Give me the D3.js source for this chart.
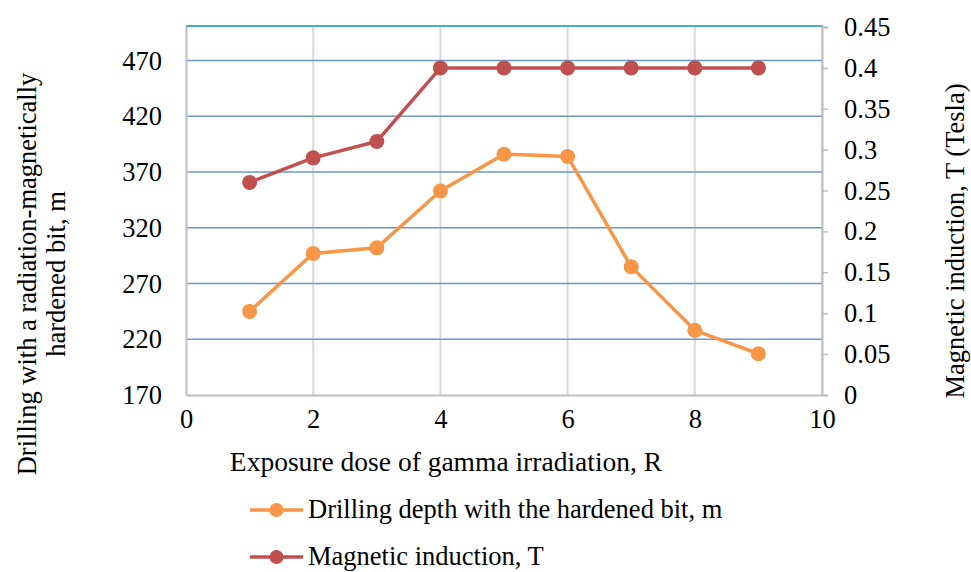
<!DOCTYPE html>
<html>
<head>
<meta charset="utf-8">
<script src="https://cdn.jsdelivr.net/npm/d3@7"></script>
<style>
  body { margin: 0; background: #fff; }
  svg text { font-family: "Liberation Serif", "Times New Roman", serif; fill: #000; }
</style>
</head>
<body>
<div id="chart"></div>
<script>
// exposure dose steps
var doses = [1, 2, 3, 4, 5, 6, 7, 8, 9];
// drilling depth, m (left axis)
var depth = [245, 297, 302, 353, 386, 384, 285, 228, 207];
// magnetic induction, T (right axis)
var induction = [0.26, 0.29, 0.31, 0.40, 0.40, 0.40, 0.40, 0.40, 0.40];

var xTicks = [0, 2, 4, 6, 8, 10];
var leftTicks = [170, 220, 270, 320, 370, 420, 470];
var rightTicks = [0, 0.05, 0.1, 0.15, 0.2, 0.25, 0.3, 0.35, 0.4, 0.45];

var seriesNames = ["Drilling depth with the hardened bit, m", "Magnetic induction, T"];
var colors = ["#f79646", "#c0504d"];

var width = 971, height = 572;
var plotLeft = 186, plotRight = 822, plotTop = 26, plotBottom = 395;

var svg = d3.select("#chart").append("svg")
  .attr("width", width)
  .attr("height", height);

var x = d3.scaleLinear().domain([0, 10]).range([plotLeft, plotRight]);
var yL = d3.scaleLinear().domain([170, 501]).range([plotBottom, plotTop]);
var yR = d3.scaleLinear().domain([0, 0.45]).range([plotBottom, plotTop + 1]);

// vertical grid
svg.append("g").selectAll("line")
  .data(xTicks.slice(1))
  .enter().append("line")
  .attr("x1", function (d) { return x(d); })
  .attr("x2", function (d) { return x(d); })
  .attr("y1", plotTop).attr("y2", plotBottom)
  .attr("stroke", "#d9d9d9").attr("stroke-width", 2);

// horizontal grid
svg.append("g").selectAll("line")
  .data(leftTicks.slice(1))
  .enter().append("line")
  .attr("x1", plotLeft).attr("x2", plotRight)
  .attr("y1", function (d) { return yL(d); })
  .attr("y2", function (d) { return yL(d); })
  .attr("stroke", "#7096c8").attr("stroke-width", 1.5);

// top border
svg.append("line")
  .attr("x1", plotLeft).attr("x2", plotRight + 1)
  .attr("y1", plotTop).attr("y2", plotTop)
  .attr("stroke", "#4bacc6").attr("stroke-width", 2);

// left axis
var leftAxis = svg.append("g")
  .attr("transform", "translate(" + plotLeft + ",0)")
  .call(d3.axisLeft(yL).tickValues(leftTicks).tickSize(0).tickPadding(24));
leftAxis.select(".domain").attr("stroke", "#bfbfbf").attr("stroke-width", 2);
leftAxis.selectAll("text").style("font-size", "26.5px");

// right axis
var rightAxis = svg.append("g")
  .attr("transform", "translate(" + plotRight + ",0)")
  .call(d3.axisRight(yR).tickValues(rightTicks).tickSize(6).tickPadding(16)
    .tickFormat(function (d) { return d3.format("")(+d.toFixed(2)); }));
rightAxis.select(".domain").attr("stroke", "#bfbfbf").attr("stroke-width", 2);
rightAxis.selectAll(".tick line").attr("stroke", "#bfbfbf").attr("stroke-width", 1.5);
rightAxis.selectAll("text").style("font-size", "26.5px");

// bottom axis
var bottomAxis = svg.append("g")
  .attr("transform", "translate(0," + plotBottom + ")")
  .call(d3.axisBottom(x).tickValues(xTicks).tickSize(0).tickPadding(14));
bottomAxis.select(".domain").attr("stroke", "#bfbfbf").attr("stroke-width", 2);
bottomAxis.selectAll("text").style("font-size", "26.5px");

// axis titles
svg.append("text")
  .attr("x", 446).attr("y", 471)
  .attr("text-anchor", "middle")
  .style("font-size", "27.5px")
  .text("Exposure dose of gamma irradiation, R");

var lt = svg.append("text")
  .attr("transform", "translate(36,274) rotate(-90)")
  .attr("text-anchor", "middle")
  .style("font-size", "26.5px");
lt.append("tspan").attr("x", 0).attr("dy", 0).text("Drilling with a radiation-magnetically");
lt.append("tspan").attr("x", 0).attr("dy", 29).text("hardened bit, m");

svg.append("text")
  .attr("transform", "translate(964,241) rotate(-90)")
  .attr("text-anchor", "middle")
  .style("font-size", "26.5px")
  .text("Magnetic induction, T (Tesla)");

// series
var data = [
  doses.map(function (d, i) { return [x(d), yL(depth[i])]; }),
  doses.map(function (d, i) { return [x(d), yR(induction[i])]; })
];

var line = d3.line();

data.forEach(function (pts, k) {
  var g = svg.append("g");
  g.append("path")
    .attr("d", line(pts))
    .attr("fill", "none")
    .attr("stroke", colors[k])
    .attr("stroke-width", 3.5);
  g.selectAll("circle")
    .data(pts)
    .enter().append("circle")
    .attr("cx", function (d) { return d[0]; })
    .attr("cy", function (d) { return d[1]; })
    .attr("r", 7.5)
    .attr("fill", colors[k]);
});

// legend
var legendY = [510, 557];
seriesNames.forEach(function (name, k) {
  var g = svg.append("g").attr("transform", "translate(0," + legendY[k] + ")");
  g.append("line")
    .attr("x1", 250).attr("x2", 303)
    .attr("y1", 0).attr("y2", 0)
    .attr("stroke", colors[k]).attr("stroke-width", 3.5);
  g.append("circle")
    .attr("cx", 276.5).attr("cy", 0).attr("r", 7)
    .attr("fill", colors[k]);
  g.append("text")
    .attr("x", 308).attr("y", 8)
    .style("font-size", "26.5px")
    .text(name);
});
</script>
</body>
</html>
